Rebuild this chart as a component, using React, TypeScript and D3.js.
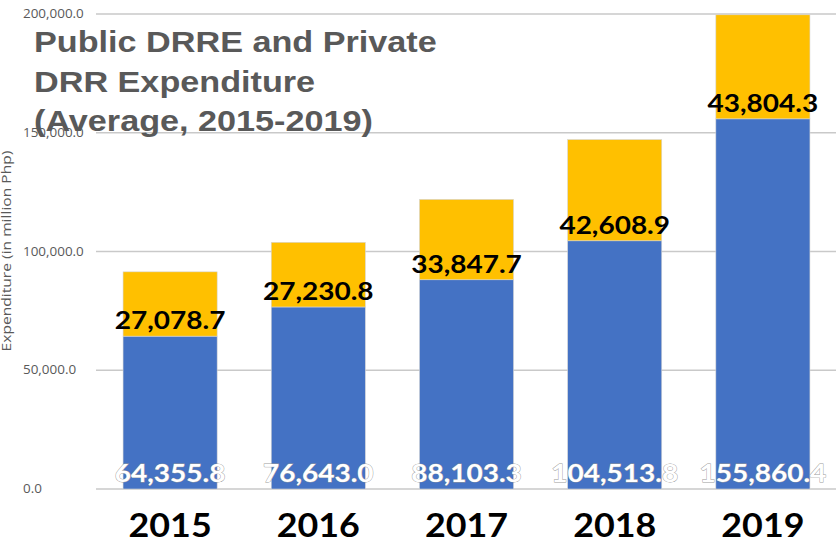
import * as d3 from "d3";

const years = ["2015", "2016", "2017", "2018", "2019"];
const publicDrre = [64355.8, 76643.0, 88103.3, 104513.8, 155860.4];
const privateDrr = [27078.7, 27230.8, 33847.7, 42608.9, 43804.3];
const yTicks = [0, 50000, 100000, 150000, 200000];
const titleLines = ["Public DRRE and Private", "DRR Expenditure", "(Average, 2015-2019)"];

const W = 836;
const H = 541;
const SX = 1.12; // the source image is a little stretched sideways

export default function App() {
  const x = d3.scaleBand()
    .domain(years)
    .range([96, 837])
    .paddingInner(0.365)
    .paddingOuter(0.1825);

  const y = d3.scaleLinear().domain([0, 200000]).range([489, 14]);
  const fmt = d3.format(",.1f");

  const rows = years.map((yr, i) => ({
    year: yr,
    pub: publicDrre[i],
    priv: privateDrr[i],
  }));

  return (
    <svg width={W} height={H} viewBox={`0 0 ${W} ${H}`}
      style={{ position: "absolute", left: 0, top: 0, background: "#fff" }}>
      {/* grid */}
      {yTicks.map(t => (
        <g key={t}>
          <line x1={96} x2={W} y1={y(t)} y2={y(t)} stroke="#c9c9c9" strokeWidth={1.5} />
          <text transform={`translate(23,${y(t)}) scale(${SX},1)`} dy="0.35em"
            fontFamily="'Open Sans', sans-serif" fontSize={12} fill="#595959">
            {fmt(t)}
          </text>
        </g>
      ))}

      <text transform={`translate(11,251) rotate(-90) scale(1.3,1)`} textAnchor="middle"
        fontFamily="'Open Sans', sans-serif" fontSize={12} fill="#595959">
        Expenditure (in million Php)
      </text>

      {/* bars */}
      {rows.map(d => (
        <g key={d.year}>
          <rect x={x(d.year)} width={x.bandwidth()} y={y(d.pub)} height={y(0) - y(d.pub)}
            fill="#4472C4" stroke="#d6d6d6" strokeWidth={0.6} />
          <rect x={x(d.year)} width={x.bandwidth()} y={y(d.pub + d.priv)}
            height={y(d.pub) - y(d.pub + d.priv)}
            fill="#FFC000" stroke="#d6d6d6" strokeWidth={0.6} />
        </g>
      ))}

      {/* labels */}
      {rows.map(d => {
        const cx = (x(d.year) as number) + x.bandwidth() / 2;
        return (
          <g key={"l" + d.year} fontFamily="Lato, sans-serif" fontWeight="bold" textAnchor="middle">
            <text transform={`translate(${cx},${y(d.pub) - 7}) scale(${SX},1)`}
              fontSize={25} fill="#000">
              {fmt(d.priv)}
            </text>
            <text transform={`translate(${cx},${y(0) - 7}) scale(${SX},1)`}
              fontSize={25} fill="#fff" stroke="#9a9a9a" strokeWidth={0.8} paintOrder="stroke">
              {fmt(d.pub)}
            </text>
            <text transform={`translate(${cx},537) scale(${SX},1)`}
              fontSize={32} fill="#000">
              {d.year}
            </text>
          </g>
        );
      })}

      {/* title */}
      {titleLines.map((t, i) => (
        <text key={t} transform={`translate(34,${52 + i * 39.5}) scale(1.14,1)`}
          fontFamily="'Liberation Sans', Arial, sans-serif" fontWeight="bold"
          fontSize={30} fill="#595959">
          {t}
        </text>
      ))}
    </svg>
  );
}
